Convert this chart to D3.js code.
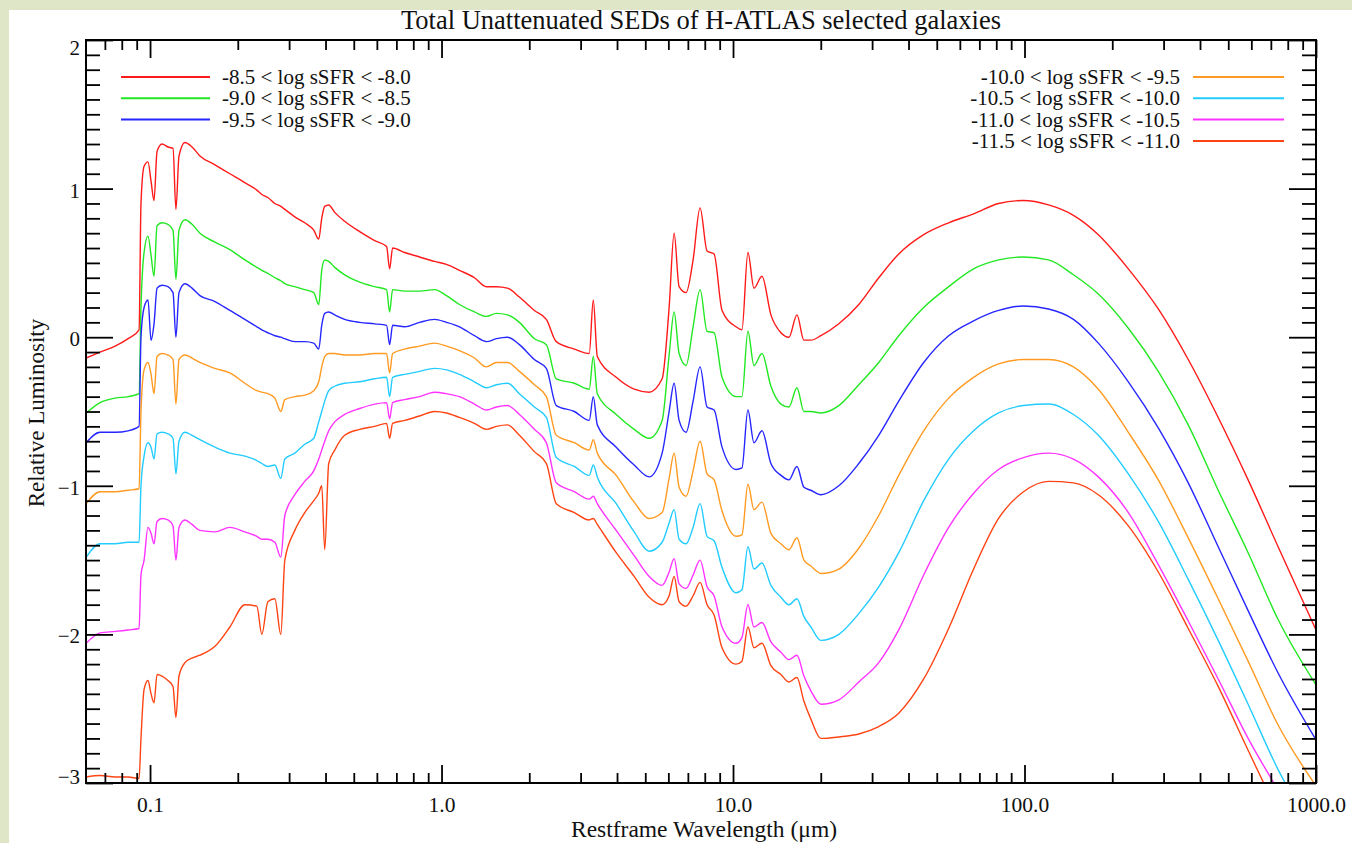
<!DOCTYPE html>
<html>
<head>
<meta charset="utf-8">
<style>
  body { margin: 0; background: #dfe6c8; }
  #chart svg { display: block; font-family: "Liberation Serif", "Times New Roman", serif; }
</style>
</head>
<body>
<div id="chart"></div>
<script src="https://d3js.org/d3.v7.min.js"></script>
<script>
// wavelengths (micron) shared by all curves
const wavelength = [
  0.0604, 0.0674, 0.0759, 0.0841, 0.0917,
  0.0931, 0.0954, 0.0984, 0.1008, 0.1032,
  0.1057, 0.1099, 0.1152, 0.1199, 0.1227,
  0.1257, 0.1318, 0.1393, 0.1483, 0.1670,
  0.1879, 0.2115, 0.2325, 0.2418, 0.2536,
  0.2680, 0.2810, 0.2900, 0.3138, 0.3395,
  0.3645, 0.3791, 0.3882, 0.3975, 0.4102,
  0.4301, 0.4653, 0.5238, 0.5896, 0.6480,
  0.6636, 0.6795, 0.7470, 0.8408, 0.9463,
  1.040, 1.152, 1.297, 1.426, 1.543,
  1.683, 1.850, 2.082, 2.289, 2.476,
  2.855, 3.212, 3.316, 3.423, 3.975,
  4.581, 5.157, 5.713, 6.037, 6.280,
  6.532, 6.902, 7.295, 7.709, 8.147,
  8.610, 9.170, 10.24, 10.73, 11.25,
  11.80, 12.57, 13.49, 14.60, 15.55,
  16.57, 17.51, 18.50, 20.02, 23.07,
  27.01, 31.62, 37.03, 45.10, 54.93,
  66.89, 81.47, 99.2, 120.9, 147.2,
  179.2, 227.1, 287.7, 364.5, 461.8,
  584.9, 741.3, 1000
];

const sedM80 = [
  -0.14, -0.10, -0.06, -0.01, 0.05,
  0.90, 1.15, 1.18, 1.05, 0.92,
  1.25, 1.30, 1.28, 1.27, 0.86,
  1.22, 1.31, 1.28, 1.22, 1.16,
  1.10, 1.04, 0.99, 0.96, 0.94,
  0.90, 0.88, 0.86, 0.81, 0.77,
  0.72, 0.66, 0.80, 0.88, 0.89,
  0.84, 0.78, 0.71, 0.65, 0.61,
  0.46, 0.60, 0.57, 0.54, 0.51,
  0.49, 0.45, 0.40, 0.34, 0.34,
  0.33, 0.27, 0.18, 0.12, -0.03,
  -0.08, -0.11, 0.25, -0.13, -0.27,
  -0.35, -0.37, -0.28, 0.20, 0.70,
  0.34, 0.30, 0.52, 0.87, 0.58,
  0.56, 0.18, 0.07, 0.05, 0.57,
  0.33, 0.41, 0.15, 0.03, 0.00,
  0.15, -0.02, -0.02, 0.01, 0.09,
  0.22, 0.40, 0.56, 0.69, 0.77,
  0.83, 0.90, 0.92, 0.89, 0.82,
  0.69, 0.46, 0.19, -0.15, -0.54,
  -0.96, -1.41, -1.97
];

const sedM85 = [
  -0.51, -0.44, -0.41, -0.40, -0.38,
  0.20, 0.57, 0.68, 0.55, 0.41,
  0.75, 0.77, 0.76, 0.72, 0.39,
  0.72, 0.79, 0.76, 0.70, 0.64,
  0.59, 0.52, 0.47, 0.45, 0.43,
  0.40, 0.38, 0.36, 0.34, 0.32,
  0.30, 0.22, 0.45, 0.52, 0.51,
  0.47, 0.42, 0.37, 0.34, 0.32,
  0.17, 0.32, 0.31, 0.31, 0.32,
  0.28, 0.22, 0.17, 0.14, 0.16,
  0.15, 0.10, -0.01, -0.05, -0.28,
  -0.31, -0.35, -0.13, -0.38, -0.52,
  -0.62, -0.68, -0.56, -0.12, 0.17,
  -0.11, -0.19, 0.07, 0.32, 0.04,
  0.03, -0.27, -0.40, -0.40, 0.04,
  -0.19, -0.11, -0.33, -0.45, -0.47,
  -0.34, -0.50, -0.50, -0.51, -0.46,
  -0.32, -0.17, 0.01, 0.20, 0.34,
  0.46, 0.52, 0.54, 0.52, 0.42,
  0.29, 0.06, -0.23, -0.59, -1.03,
  -1.45, -1.90, -2.34
];

const sedM90 = [
  -0.71, -0.64, -0.64, -0.63, -0.60,
  0.00, 0.20, 0.25, -0.02, 0.09,
  0.33, 0.35, 0.34, 0.30, 0.00,
  0.30, 0.36, 0.33, 0.28, 0.24,
  0.18, 0.12, 0.07, 0.05, 0.03,
  0.01, 0.00, -0.01, -0.03, -0.03,
  -0.04, -0.08, 0.08, 0.16, 0.17,
  0.15, 0.12, 0.10, 0.09, 0.08,
  -0.05, 0.08, 0.07, 0.10, 0.12,
  0.10, 0.07, 0.01, -0.03, -0.01,
  0.00, -0.05, -0.15, -0.21, -0.46,
  -0.50, -0.56, -0.40, -0.59, -0.74,
  -0.86, -0.94, -0.78, -0.50, -0.31,
  -0.56, -0.64, -0.43, -0.20, -0.47,
  -0.49, -0.74, -0.89, -0.88, -0.49,
  -0.71, -0.63, -0.85, -0.93, -0.96,
  -0.87, -1.01, -1.03, -1.06, -1.00,
  -0.85, -0.66, -0.43, -0.17, 0.01,
  0.11, 0.18, 0.21, 0.19, 0.12,
  -0.04, -0.30, -0.61, -0.98, -1.41,
  -1.84, -2.26, -2.71
];

const sedM95 = [
  -1.12, -1.04, -1.04, -1.03, -1.02,
  -0.50, -0.22, -0.17, -0.25, -0.38,
  -0.13, -0.11, -0.12, -0.15, -0.45,
  -0.15, -0.12, -0.14, -0.17, -0.21,
  -0.24, -0.31, -0.36, -0.37, -0.38,
  -0.41, -0.50, -0.42, -0.40, -0.39,
  -0.36, -0.30, -0.20, -0.13, -0.11,
  -0.11, -0.12, -0.12, -0.11, -0.11,
  -0.24, -0.11, -0.08, -0.06, -0.04,
  -0.06, -0.09, -0.14, -0.20, -0.17,
  -0.17, -0.23, -0.32, -0.40, -0.66,
  -0.71, -0.76, -0.69, -0.78, -0.93,
  -1.11, -1.22, -1.18, -0.95, -0.78,
  -1.01, -1.07, -0.90, -0.70, -0.92,
  -0.96, -1.17, -1.34, -1.33, -0.99,
  -1.16, -1.11, -1.32, -1.39, -1.43,
  -1.35, -1.50, -1.54, -1.59, -1.56,
  -1.42, -1.20, -0.93, -0.63, -0.41,
  -0.27, -0.18, -0.15, -0.15, -0.20,
  -0.35, -0.64, -0.96, -1.35, -1.76,
  -2.18, -2.61, -3.02
];

const sedM100 = [
  -1.48, -1.39, -1.39, -1.38, -1.38,
  -1.00, -0.80, -0.71, -0.74, -0.82,
  -0.65, -0.64, -0.65, -0.68, -0.92,
  -0.70, -0.64, -0.66, -0.69, -0.74,
  -0.78, -0.80, -0.83, -0.85, -0.87,
  -0.86, -0.95, -0.82, -0.78, -0.72,
  -0.68, -0.57, -0.50, -0.43, -0.36,
  -0.33, -0.31, -0.30, -0.28, -0.27,
  -0.40, -0.27, -0.25, -0.23, -0.21,
  -0.22, -0.25, -0.30, -0.34, -0.32,
  -0.31, -0.38, -0.47, -0.54, -0.81,
  -0.87, -0.93, -0.86, -0.94, -1.12,
  -1.31, -1.44, -1.38, -1.25, -1.16,
  -1.36, -1.39, -1.28, -1.12, -1.34,
  -1.37, -1.55, -1.72, -1.70, -1.41,
  -1.56, -1.52, -1.67, -1.75, -1.80,
  -1.76, -1.88, -1.95, -2.04, -2.00,
  -1.86, -1.68, -1.45, -1.10, -0.82,
  -0.63, -0.51, -0.46, -0.45, -0.52,
  -0.66, -0.92, -1.24, -1.63, -2.04,
  -2.47, -2.91, -3.35
];

const sedM105 = [
  -2.06, -1.99, -1.98, -1.97, -1.96,
  -1.60, -1.50, -1.28, -1.32, -1.39,
  -1.24, -1.22, -1.23, -1.27, -1.50,
  -1.28, -1.23, -1.26, -1.30, -1.31,
  -1.28, -1.31, -1.34, -1.36, -1.36,
  -1.38, -1.48, -1.20, -1.06, -0.97,
  -0.90, -0.82, -0.76, -0.70, -0.63,
  -0.57, -0.52, -0.48, -0.45, -0.44,
  -0.55, -0.44, -0.42, -0.40, -0.37,
  -0.38, -0.40, -0.45, -0.49, -0.47,
  -0.46, -0.52, -0.62, -0.71, -0.98,
  -1.04, -1.09, -1.07, -1.12, -1.30,
  -1.47, -1.61, -1.67, -1.58, -1.49,
  -1.66, -1.69, -1.60, -1.50, -1.68,
  -1.74, -1.95, -2.06, -2.02, -1.80,
  -1.95, -1.92, -2.05, -2.12, -2.17,
  -2.14, -2.28, -2.38, -2.47, -2.44,
  -2.32, -2.19, -1.97, -1.60, -1.28,
  -1.05, -0.89, -0.81, -0.78, -0.82,
  -0.94, -1.18, -1.53, -1.91, -2.30,
  -2.70, -3.05, -3.50
];

const sedM110 = [
  -2.96, -2.95, -2.96, -2.96, -2.97,
  -2.70, -2.37, -2.31, -2.40, -2.46,
  -2.27, -2.28, -2.31, -2.35, -2.56,
  -2.28, -2.19, -2.16, -2.14, -2.08,
  -1.95, -1.80, -1.81, -2.00, -1.78,
  -1.76, -2.00, -1.50, -1.30, -1.18,
  -1.10, -1.05, -1.00, -1.43, -0.85,
  -0.76, -0.66, -0.62, -0.60, -0.58,
  -0.68, -0.58, -0.56, -0.53, -0.50,
  -0.51, -0.54, -0.58, -0.62, -0.60,
  -0.59, -0.66, -0.77, -0.85, -1.12,
  -1.18, -1.23, -1.22, -1.26, -1.45,
  -1.61, -1.75, -1.80, -1.74, -1.61,
  -1.78, -1.81, -1.74, -1.65, -1.80,
  -1.87, -2.09, -2.20, -2.18, -1.95,
  -2.09, -2.06, -2.21, -2.27, -2.32,
  -2.29, -2.45, -2.57, -2.70, -2.69,
  -2.67, -2.62, -2.53, -2.30, -1.96,
  -1.56, -1.22, -1.04, -0.97, -0.98,
  -1.06, -1.27, -1.58, -1.96, -2.35,
  -2.78, -3.20, -3.70
];

const seriesLabels = [
  "-8.5 < log sSFR < -8.0",
  "-9.0 < log sSFR < -8.5",
  "-9.5 < log sSFR < -9.0",
  "-10.0 < log sSFR < -9.5",
  "-10.5 < log sSFR < -10.0",
  "-11.0 < log sSFR < -10.5",
  "-11.5 < log sSFR < -11.0"
];
const seriesValues = [sedM80, sedM85, sedM90, sedM95, sedM100, sedM105, sedM110];

const majorX = [0.1, 1, 10, 100, 1000];
const majorY = [-3, -2, -1, 0, 1, 2];

// styles
const colors = ["#ff1a1a", "#22e822", "#2626ff", "#ff9a22", "#22ccff", "#ff33ff", "#ff4414"];

const width = 1352, height = 843;
const plot = {left: 86, right: 1316, top: 40, bottom: 783};

const svg = d3.select('#chart').append('svg')
  .attr('width', width)
  .attr('height', height);

svg.append('rect').attr('width', width).attr('height', height).attr('fill', '#dfe6c8');
svg.append('rect').attr('x', 9).attr('y', 10)
  .attr('width', width - 9).attr('height', height - 10).attr('fill', '#fff');

const x = d3.scaleLog().domain([0.0603, 1000]).range([plot.left, plot.right]);
const y = d3.scaleLinear().domain([-3, 2]).range([plot.bottom, plot.top]);

svg.append('clipPath').attr('id', 'clip')
  .append('rect')
  .attr('x', plot.left).attr('y', plot.top)
  .attr('width', plot.right - plot.left).attr('height', plot.bottom - plot.top);

const line = d3.line()
  .x(d => x(d[0]))
  .y(d => y(d[1]))
  .curve(d3.curveMonotoneX);

svg.append('g').attr('clip-path', 'url(#clip)')
  .selectAll('path')
  .data(seriesValues)
  .enter().append('path')
  .attr('d', vals => line(vals.map((v, i) => [wavelength[i], v])))
  .attr('fill', 'none')
  .attr('stroke', (d, i) => colors[i])
  .attr('stroke-width', 1.4)
  .attr('stroke-linejoin', 'round');

// minor tick values
const minorX = [];
[0.01, 0.1, 1, 10, 100].forEach(dec => {
  for (let k = 2; k <= 9; k++) {
    const v = dec * k;
    if (v > x.domain()[0] && v < 1000) minorX.push(v);
  }
});
const minorY = d3.range(-30, 21).map(d => d / 10).filter(d => !majorY.includes(Math.round(d * 10) / 10));

function styleAxis(g) {
  g.select('.domain').remove();
  g.selectAll('line').attr('stroke', '#000').attr('stroke-width', 1.8);
  g.selectAll('text').attr('fill', '#111').style('font-family', '"Liberation Serif", serif');
}

svg.append('g').attr('transform', `translate(0,${plot.bottom})`)
  .call(d3.axisBottom(x).tickValues(minorX).tickSize(-10).tickFormat(''))
  .call(styleAxis);
svg.append('g').attr('transform', `translate(0,${plot.bottom})`)
  .call(d3.axisBottom(x).tickValues(majorX).tickSize(-18).tickPadding(14).tickFormat(d3.format('.1f')))
  .call(styleAxis)
  .selectAll('text').style('font-size', '21.5px');
svg.append('g').attr('transform', `translate(0,${plot.top})`)
  .call(d3.axisTop(x).tickValues(minorX).tickSize(-10).tickFormat(''))
  .call(styleAxis);
svg.append('g').attr('transform', `translate(0,${plot.top})`)
  .call(d3.axisTop(x).tickValues(majorX).tickSize(-18).tickFormat(''))
  .call(styleAxis);

svg.append('g').attr('transform', `translate(${plot.left},0)`)
  .call(d3.axisLeft(y).tickValues(minorY).tickSize(-14).tickFormat(''))
  .call(styleAxis);
svg.append('g').attr('transform', `translate(${plot.left},0)`)
  .call(d3.axisLeft(y).tickValues(majorY).tickSize(-27).tickPadding(6).tickFormat(d3.format('d')))
  .call(styleAxis)
  .selectAll('text')
  .style('font-size', '21px')
  .attr('dy', d => d === 2 ? '0.71em' : (d === -3 ? '0em' : '0.4em'));
svg.append('g').attr('transform', `translate(${plot.right},0)`)
  .call(d3.axisRight(y).tickValues(minorY).tickSize(-14).tickFormat(''))
  .call(styleAxis);
svg.append('g').attr('transform', `translate(${plot.right},0)`)
  .call(d3.axisRight(y).tickValues(majorY).tickSize(-27).tickFormat(''))
  .call(styleAxis);

svg.append('rect')
  .attr('x', plot.left).attr('y', plot.top)
  .attr('width', plot.right - plot.left).attr('height', plot.bottom - plot.top)
  .attr('fill', 'none').attr('stroke', '#000').attr('stroke-width', 2);

// titles
svg.append('text')
  .attr('x', 701).attr('y', 29)
  .attr('text-anchor', 'middle')
  .style('font-size', '26.5px').attr('fill', '#111')
  .text('Total Unattenuated SEDs of H-ATLAS selected galaxies');

svg.append('text')
  .attr('x', 704).attr('y', 837)
  .attr('text-anchor', 'middle')
  .style('font-size', '23.5px').attr('fill', '#111')
  .text('Restframe Wavelength (\u03bcm)');

svg.append('text')
  .attr('transform', 'translate(44,413) rotate(-90)')
  .attr('text-anchor', 'middle')
  .style('font-size', '23px').attr('fill', '#111')
  .text('Relative Luminosity');

// legend
const legend = svg.append('g');
seriesLabels.forEach((lab, i) => {
  const left = i < 3;
  const row = left ? i : i - 3;
  const ly = 77 + row * 21.3;
  const x0 = left ? 121 : 1193, x1 = left ? 210 : 1284;
  legend.append('line')
    .attr('x1', x0).attr('x2', x1).attr('y1', ly).attr('y2', ly)
    .attr('stroke', colors[i]).attr('stroke-width', 2);
  legend.append('text')
    .attr('x', left ? 222 : 1180).attr('y', ly + 7)
    .attr('text-anchor', left ? 'start' : 'end')
    .style('font-size', '21px').attr('fill', '#111')
    .text(lab);
});
</script>
</body>
</html>
